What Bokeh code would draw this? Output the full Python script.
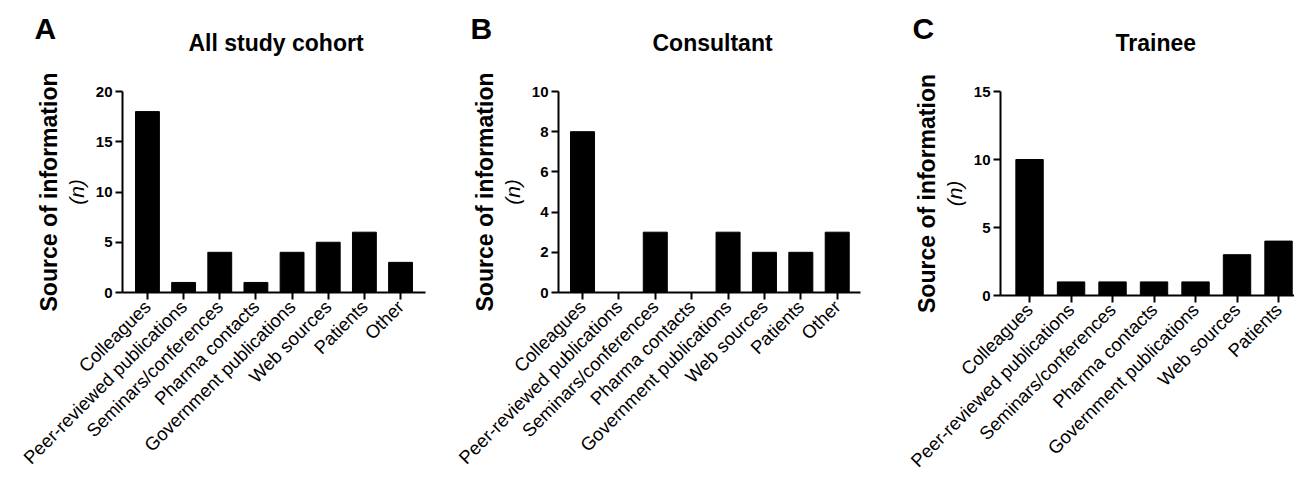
import math
from bokeh.plotting import figure
from bokeh.layouts import row
from bokeh.models import Range1d, FixedTicker, ColumnDataSource, LinearAxis, Title
from bokeh.embed import file_html
from bokeh.resources import INLINE

FONT = "Liberation Sans"

categories = ["Colleagues", "Peer-reviewed publications", "Seminars/conferences",
              "Pharma contacts", "Government publications", "Web sources",
              "Patients", "Other"]
all_cohort = [18, 1, 4, 1, 4, 5, 6, 3]
consultant = [8, 0, 3, 0, 3, 2, 2, 3]
trainee_categories = categories[:7]
trainee = [10, 1, 1, 1, 1, 3, 4]

titles = ["All study cohort", "Consultant", "Trainee"]
letters = ["A", "B", "C"]
y_ticks_a = [0, 5, 10, 15, 20]
y_ticks_b = [0, 2, 4, 6, 8, 10]
y_ticks_c = [0, 5, 10, 15]


def panel(cats, vals, title, letter, yticks, ymax, xr, fl, fw, br, ft, fh, bb,
          title_offset):
    p = figure(frame_width=fw, frame_height=fh,
               min_border_left=fl, min_border_right=br,
               min_border_top=ft, min_border_bottom=bb,
               x_range=Range1d(*xr), y_range=Range1d(0, ymax),
               output_backend="svg", toolbar_location=None,
               background_fill_color="white", border_fill_color="white")
    p.title.visible = False
    p.outline_line_color = None
    p.grid.visible = False
    xs = list(range(len(cats)))
    src = ColumnDataSource(dict(x=xs, top=vals))
    p.vbar(x="x", top="top", bottom=0, width=0.66, source=src,
           fill_color="black", line_color="black", line_width=1)

    # header: spacer, title, panel letter (stacked outward from the frame)
    p.add_layout(Title(text=" ", text_font=FONT, text_font_size="13px",
                       standoff=19, text_color="white"), "above")
    p.add_layout(Title(text=title, text_font=FONT, text_font_size="23px",
                       text_font_style="bold", text_color="black",
                       align="left", offset=title_offset,
                       vertical_align="bottom", standoff=0), "above")
    p.add_layout(Title(text=letter, text_font=FONT, text_font_size="30px",
                       text_font_style="bold", text_color="black",
                       align="left", offset=-88, vertical_align="bottom",
                       standoff=-35), "above")

    for ax in (p.xaxis[0], p.yaxis[0]):
        ax.axis_line_width = 2
        ax.axis_line_color = "black"
        ax.major_tick_line_width = 2
        ax.major_tick_line_color = "black"
        ax.major_tick_in = 0
        ax.major_tick_out = 7
        ax.minor_tick_line_color = None
    p.xaxis.ticker = FixedTicker(ticks=xs)
    p.xaxis.major_label_overrides = {i: c for i, c in enumerate(cats)}
    p.xaxis.major_label_orientation = math.pi / 4
    p.xaxis.major_label_text_font = FONT
    p.xaxis.major_label_text_font_size = "18.5px"
    p.xaxis.major_label_text_color = "black"
    p.xaxis.major_label_standoff = 4

    p.yaxis.ticker = FixedTicker(ticks=yticks)
    p.yaxis.major_label_text_font = FONT
    p.yaxis.major_label_text_font_size = "15px"
    p.yaxis.major_label_text_font_style = "bold"
    p.yaxis.major_label_text_color = "black"
    p.yaxis.major_label_standoff = 3
    p.yaxis.axis_label = "(n)"
    p.yaxis.axis_label_text_font = FONT
    p.yaxis.axis_label_text_font_size = "21px"
    p.yaxis.axis_label_text_font_style = "italic"
    p.yaxis.axis_label_text_color = "black"
    p.yaxis.axis_label_standoff = 5

    outer = LinearAxis(ticker=FixedTicker(ticks=[]), axis_line_color=None,
                       major_tick_line_color=None, minor_tick_line_color=None,
                       major_tick_out=0, major_tick_in=0, major_label_standoff=0,
                       axis_label="Source of information",
                       axis_label_text_font=FONT,
                       axis_label_text_font_size="23px",
                       axis_label_text_font_style="bold",
                       axis_label_text_color="black",
                       axis_label_standoff=0)
    p.add_layout(outer, "left")
    return p


pa = panel(categories, all_cohort, titles[0], letters[0], y_ticks_a, 20,
           (-0.69, 7.69), 122, 303, 7, 89, 201, 186, 66)
pb = panel(categories, consultant, titles[1], letters[1], y_ticks_b, 10,
           (-0.66, 7.64), 126, 302, 4, 91, 201, 184, 94)
pc = panel(trainee_categories, trainee, titles[2], letters[2], y_ticks_c, 15,
           (-0.70, 6.385), 136, 294, 0, 91, 204, 181, 115)

layout = row(pa, pb, pc, spacing=0)
open("out.html", "w").write(file_html(layout, INLINE))
